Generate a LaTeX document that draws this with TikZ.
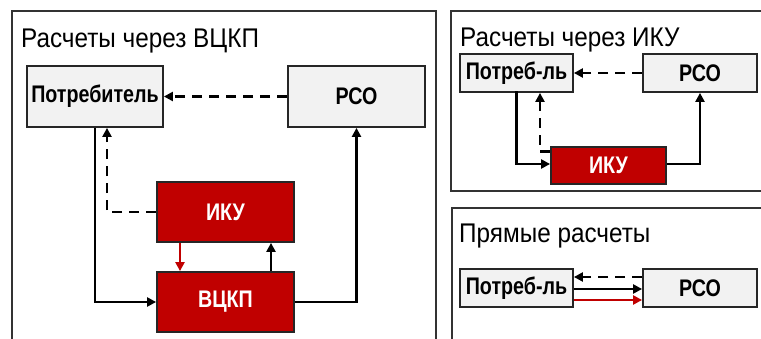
\documentclass[tikz,border=0pt]{standalone}
\usepackage{fontspec}
\setmainfont{Liberation Sans}[FakeStretch=0.82]
\newfontfamily\ttlfont{Liberation Sans}[FakeStretch=0.9]
\usetikzlibrary{arrows.meta}
\definecolor{boxred}{HTML}{C00000}
\definecolor{boxgray}{HTML}{F2F2F2}
\definecolor{frame}{HTML}{333333}
\tikzset{
  panel/.style={draw=frame, line width=1.8pt},
  ttl/.style={anchor=base west, inner sep=0pt, font=\ttlfont\fontsize{27}{30}\selectfont},
  graybox/.style={draw=black!85, fill=boxgray, line width=1.8pt, inner sep=0pt, font=\bfseries\fontsize{24}{26}\selectfont},
  redbox/.style={draw=black!85, fill=boxred, text=white, line width=1.8pt, inner sep=0pt, font=\bfseries\fontsize{24}{26}\selectfont},
  conn/.style={line width=2.2pt, -{Triangle[length=9pt,width=9pt]}},
  dconn/.style={conn, dash pattern=on 10pt off 7pt},
  rconn/.style={conn, draw=boxred, -{Triangle[length=9pt,width=9pt,fill=boxred]}}
}
\begin{document}
\begin{tikzpicture}[x=1pt,y=-1pt]
\useasboundingbox (0,0) rectangle (761,339);
\clip (0,0) rectangle (761,339);
% panels
\draw[panel] (12,11) rectangle (436,350);
\draw[panel] (451,11) rectangle (770,191);
\draw[panel] (452,208) rectangle (770,350);
% titles
\node[ttl] (t1) at (21,48) {Расчеты через ВЦКП};
\node[ttl] (t2) at (460,47) {Расчеты через ИКУ};
\node[ttl] (t3) at (459,243) {Прямые расчеты};
% left panel
\node[graybox, minimum width=136pt, minimum height=61pt] (p1) at (95,96.5) {Потребитель};
\node[graybox, minimum width=137pt, minimum height=61pt] (r1) at (356.5,96.5) {РСО};
\node[redbox, minimum width=137pt, minimum height=60pt] (i1) at (225.5,212) {ИКУ};
\node[redbox, minimum width=137pt, minimum height=60pt] (v1) at (225.5,302) {ВЦКП};
\draw[dconn] (r1.west) -- (p1.east);
\draw[conn] (p1.south) |- (v1.west);
\draw[dconn] (i1.west) -| ([xshift=12pt]p1.south);
\draw[rconn] ([xshift=-45.5pt]i1.south) -- ([xshift=-45.5pt]v1.north);
\draw[conn] ([xshift=45.5pt]v1.north) -- ([xshift=45.5pt]i1.south);
\draw[conn] (v1.east) -| (r1.south);
% top right panel
\node[graybox, minimum width=113pt, minimum height=38pt] (p2) at (516.5,73) {Потреб-ль};
\node[graybox, minimum width=114pt, minimum height=38pt] (r2) at (700,73) {РСО};
\node[redbox, minimum width=115pt, minimum height=37pt] (i2) at (608.5,165.5) {ИКУ};
\draw[dconn] (r2.west) -- (p2.east);
\draw[conn] ([yshift=1.5pt]p2.south) |- ([yshift=1.5pt]i2.west);
\draw[dconn] ([yshift=14pt]i2.west) -| ([xshift=23.5pt]p2.south);
\draw[conn] ([yshift=1.5pt]i2.east) -| (r2.south);
% bottom right panel
\node[graybox, minimum width=113pt, minimum height=38pt] (p3) at (516.5,288) {Потреб-ль};
\node[graybox, minimum width=114pt, minimum height=38pt] (r3) at (700,288) {РСО};
\draw[dconn] ([yshift=11pt]r3.west) -- ([yshift=11pt]p3.east);
\draw[conn] ([yshift=-1pt]p3.east) -- ([yshift=-1pt]r3.west);
\draw[rconn] ([yshift=-12pt]p3.east) -- ([yshift=-12pt]r3.west);
\end{tikzpicture}
\end{document}
